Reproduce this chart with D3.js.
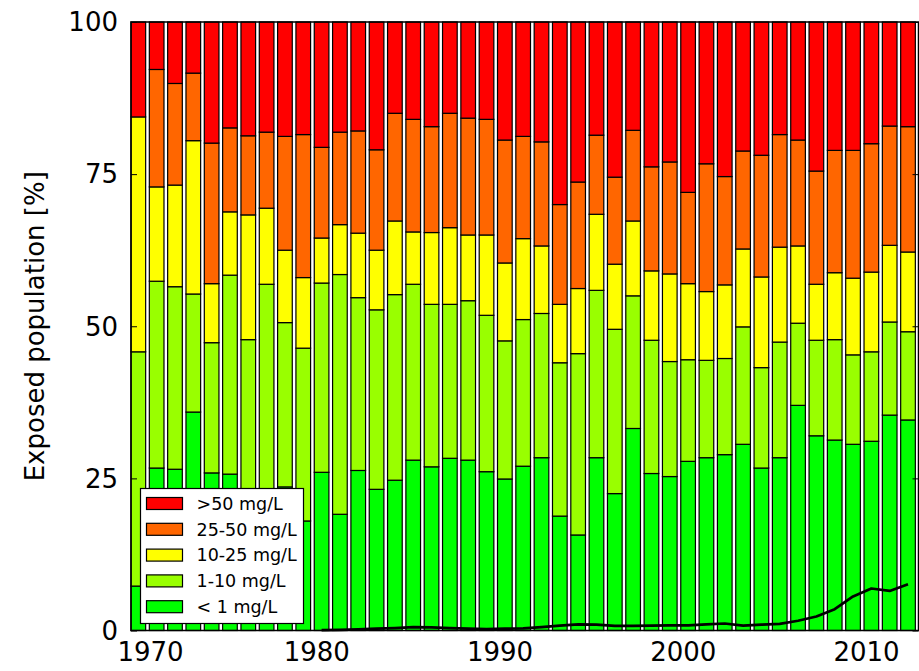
<!DOCTYPE html>
<html>
<head>
<meta charset="utf-8">
<script src="https://cdn.jsdelivr.net/npm/d3@7"></script>
<style>
  body { margin: 0; background: #fff; }
  text { font-family: "DejaVu Sans", sans-serif; fill: #000; }
</style>
</head>
<body>
<svg id="chart"></svg>
<script>
// years 1970 - 2012, one bar per year
const years = d3.range(1970, 2013);

// share of population [%] per concentration class
const lt1   = [7.3, 26.7, 26.5, 35.9, 25.9, 25.7, 20.0, 21.0, 23.6, 18.0, 26.0, 19.1, 26.3, 23.2, 24.7, 28.0, 26.9, 28.3, 28.0, 26.1, 24.9, 27.0, 28.4, 18.8, 15.7, 28.4, 22.5, 33.2, 25.8, 25.3, 27.8, 28.4, 28.9, 30.6, 26.7, 28.4, 37.0, 32.0, 31.3, 30.6, 31.1, 35.4, 34.6];
const c1_10 = [38.5, 30.7, 30.0, 19.4, 21.4, 32.7, 27.8, 35.9, 27.0, 28.4, 31.1, 39.4, 28.4, 29.5, 30.5, 28.9, 26.7, 25.3, 26.2, 25.7, 22.7, 24.1, 23.7, 25.2, 29.8, 27.5, 27.0, 21.8, 21.9, 18.9, 16.7, 16.0, 15.8, 19.3, 16.5, 19.0, 13.5, 15.7, 16.5, 14.7, 14.7, 15.3, 14.5];
const c10_25 = [38.6, 15.5, 16.7, 25.2, 9.7, 10.4, 20.5, 12.5, 11.9, 11.6, 7.4, 8.2, 10.6, 9.8, 12.1, 8.6, 11.8, 12.6, 10.8, 13.2, 12.8, 13.3, 11.1, 9.6, 10.7, 12.5, 10.7, 12.3, 11.4, 14.4, 12.5, 11.3, 12.1, 12.8, 14.9, 15.6, 12.7, 9.2, 11.0, 12.6, 13.1, 12.6, 13.1];
const c25_50 = [0.0, 19.3, 16.7, 11.1, 23.1, 13.8, 13.0, 12.5, 18.7, 23.5, 14.9, 15.2, 16.8, 16.5, 17.7, 18.5, 17.4, 18.8, 19.2, 19.0, 20.2, 16.8, 17.1, 16.4, 17.5, 13.0, 14.3, 14.9, 17.1, 18.4, 15.0, 21.0, 17.8, 16.1, 20.0, 18.5, 17.4, 18.6, 20.1, 21.0, 21.1, 19.6, 20.6];
const gt50  = [15.6, 7.8, 10.1, 8.4, 19.9, 17.4, 18.7, 18.1, 18.8, 18.5, 20.6, 18.1, 17.9, 21.0, 15.0, 16.0, 17.2, 15.0, 15.8, 16.0, 19.4, 18.8, 19.7, 30.0, 26.3, 18.6, 25.5, 17.8, 23.8, 23.0, 28.0, 23.3, 25.4, 21.2, 21.9, 18.5, 19.4, 24.5, 21.1, 21.1, 20.0, 17.1, 17.2];

// black line, 1980 - 2012
const lineYears = d3.range(1980, 2013);
const lineValues = [0.05, 0.1, 0.2, 0.3, 0.4, 0.55, 0.5, 0.4, 0.3, 0.25, 0.3, 0.35, 0.55, 0.8, 1.0, 0.95, 0.75, 0.75, 0.8, 0.85, 0.85, 1.0, 1.15, 0.8, 0.95, 1.1, 1.6, 2.3, 3.5, 5.6, 6.9, 6.5, 7.6];

const keys = ["lt1", "c1_10", "c10_25", "c25_50", "gt50"];
const labels = ["< 1 mg/L", "1-10 mg/L", "10-25 mg/L", "25-50 mg/L", ">50 mg/L"];
const colors = ["#00ff00", "#99ff00", "#ffff00", "#ff6600", "#ff0000"];
const yTicks = [0, 25, 50, 75, 100];
const xTicks = [1970, 1980, 1990, 2000, 2010];

const width = 919;
const height = 671;
const margin = { top: 22, right: 0, bottom: 40.5, left: 131 };

const rows = years.map((yr, i) => ({
  year: yr, lt1: lt1[i], c1_10: c1_10[i], c10_25: c10_25[i], c25_50: c25_50[i], gt50: gt50[i]
}));
const series = d3.stack().keys(keys)(rows);

const xScale = d3.scaleLinear()
    .domain([1970, 2013])
    .range([margin.left, width - margin.right]);

const yScale = d3.scaleLinear()
    .domain([0, 100])
    .range([height - margin.bottom, margin.top]);

const barW = xScale(1970.8) - xScale(1970);

const svg = d3.select("#chart")
    .attr("width", width)
    .attr("height", height);

// bars
svg.append("g")
  .selectAll("g")
  .data(series)
  .join("g")
    .attr("fill", (d, i) => colors[i])
  .selectAll("rect")
  .data(d => d)
  .join("rect")
    .attr("x", d => xScale(d.data.year))
    .attr("y", d => yScale(d[1]))
    .attr("width", barW)
    .attr("height", d => yScale(d[0]) - yScale(d[1]))
    .attr("stroke", "#000")
    .attr("stroke-width", 1.2);

// line
const line = d3.line()
    .x((d, i) => xScale(lineYears[i] + 0.4))
    .y(d => yScale(d));

svg.append("path")
    .datum(lineValues)
    .attr("fill", "none")
    .attr("stroke", "#000")
    .attr("stroke-width", 2.7)
    .attr("stroke-linejoin", "round")
    .attr("d", line);

// frame
svg.append("rect")
    .attr("x", margin.left)
    .attr("y", margin.top)
    .attr("width", width - margin.right - margin.left - 0.5)
    .attr("height", yScale(0) - yScale(100))
    .attr("fill", "none")
    .attr("stroke", "#000")
    .attr("stroke-width", 1.5);

// y axis (ticks inside, both sides)
const yAxis = svg.append("g")
    .attr("transform", `translate(${margin.left}, 0)`)
    .call(d3.axisRight(yScale).tickValues(yTicks).tickSize(6).tickFormat(""));
yAxis.select(".domain").remove();
const yAxisR = svg.append("g")
    .attr("transform", `translate(${width - margin.right - 0.5}, 0)`)
    .call(d3.axisLeft(yScale).tickValues(yTicks).tickSize(6).tickFormat(""));
yAxisR.select(".domain").remove();

svg.append("g")
  .selectAll("text")
  .data(yTicks)
  .join("text")
    .attr("x", margin.left - 13)
    .attr("y", d => yScale(d))
    .attr("dy", "0.36em")
    .attr("text-anchor", "end")
    .style("font-size", "26px")
    .text(d => d);

// x axis labels
const xAxis = svg.append("g")
    .attr("transform", `translate(0, ${height - margin.bottom})`)
    .call(d3.axisBottom(xScale).tickValues(xTicks).tickSize(0).tickPadding(12).tickFormat(d3.format("d")));
xAxis.select(".domain").remove();
xAxis.selectAll("text")
    .style("font-size", "26px")
    .attr("fill", "#000")
    .attr("dx", d => d === 1970 ? 19 : 2);

// y label
svg.append("text")
    .attr("transform", "rotate(-90)")
    .attr("x", -(margin.top + yScale(0)) / 2)
    .attr("y", 44)
    .attr("text-anchor", "middle")
    .style("font-size", "26px")
    .text("Exposed population [%]");

// legend
const legend = svg.append("g").attr("transform", "translate(140.5, 488.5)");
legend.append("rect")
    .attr("width", 163)
    .attr("height", 135)
    .attr("fill", "#fff")
    .attr("stroke", "#000")
    .attr("stroke-width", 1.2);

const order = [4, 3, 2, 1, 0];
const item = legend.selectAll("g.item")
  .data(order)
  .join("g")
    .attr("class", "item")
    .attr("transform", (d, i) => `translate(0, ${15 + i * 25.8})`);
item.append("rect")
    .attr("x", 6)
    .attr("y", -6)
    .attr("width", 36)
    .attr("height", 12)
    .attr("fill", d => colors[d])
    .attr("stroke", "#000")
    .attr("stroke-width", 1.2);
item.append("text")
    .attr("x", 56)
    .attr("y", 0)
    .attr("dy", "0.36em")
    .style("font-size", "17.5px")
    .text(d => labels[d]);
</script>
</body>
</html>
